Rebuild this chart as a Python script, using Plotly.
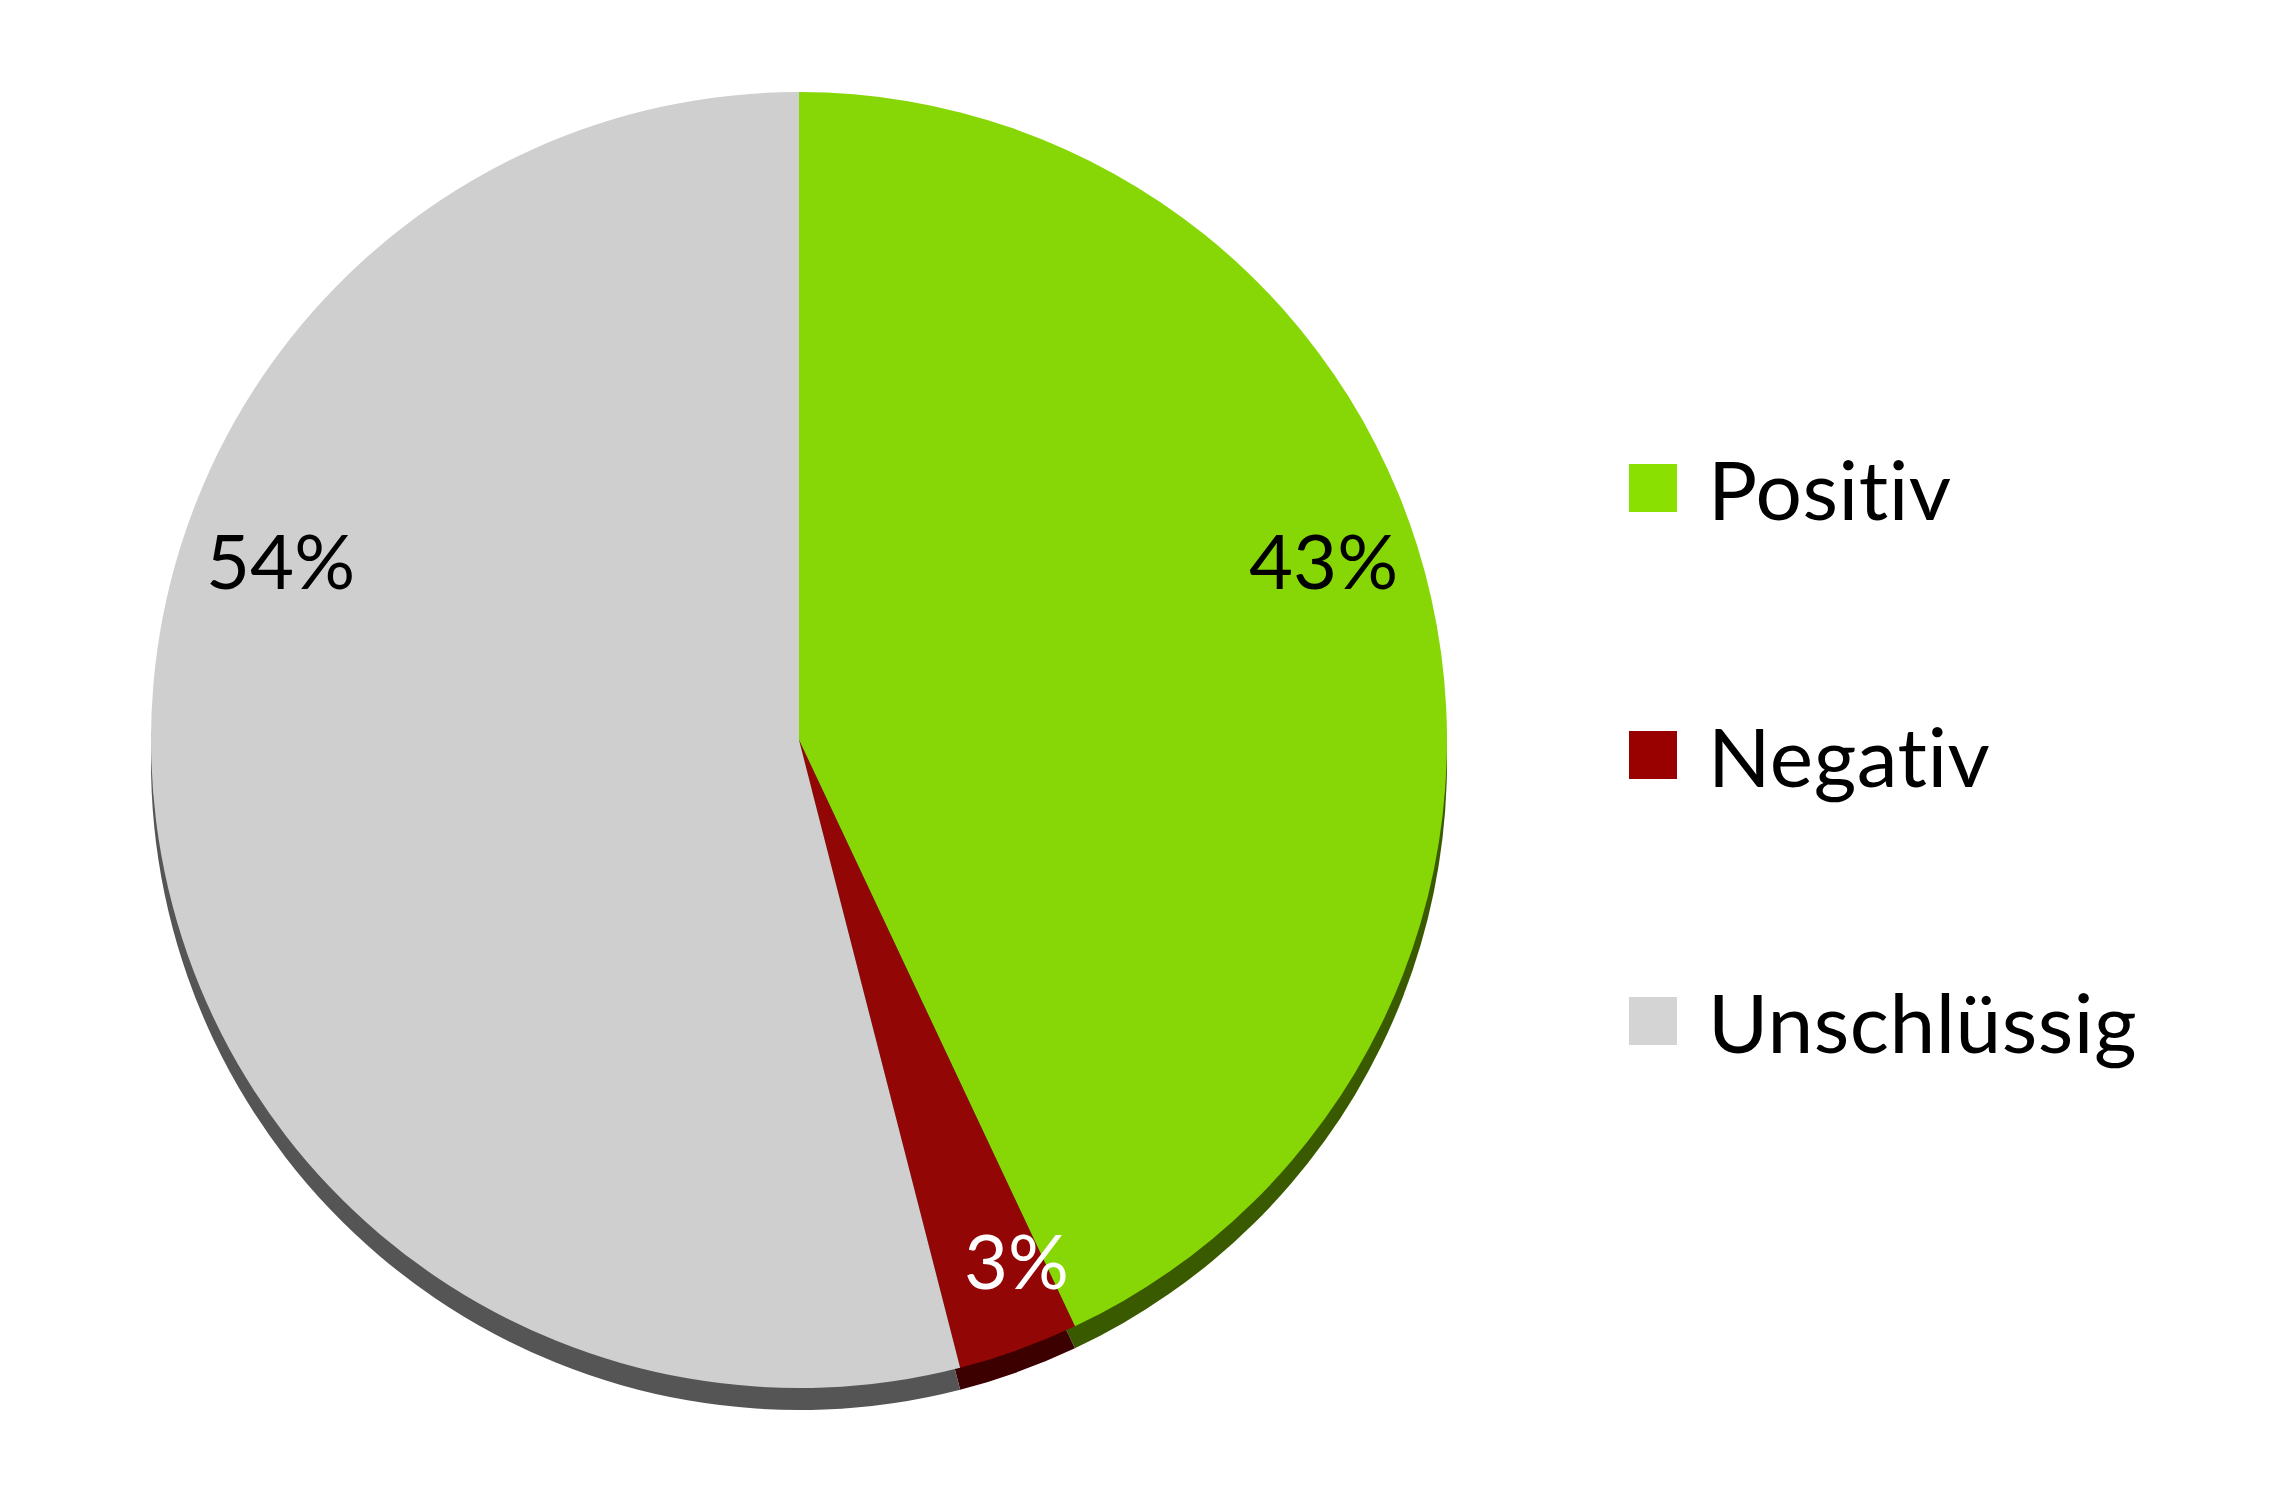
import plotly.graph_objects as go

labels = ["Positiv", "Negativ", "Unschlüssig"]
values = [43, 3, 54]
colors = ["#87D605", "#930606", "#CFCFCF"]
legend_colors = ["#8AE000", "#990000", "#D4D4D4"]
shadow_colors = ["#3A5A00", "#3C0000", "#555555"]
label_text_colors = ["#000000", "#FFFFFF", "#000000"]

W, H = 2277, 1486
OFF = 8  # page body margin offset
cx, cy, r = 799 - OFF, 740 - OFF, 648  # pixel geometry of pie (layout only)
shadow_dy = 22

def dom(cx, cy, r):
    return dict(x=[(cx - r) / W, (cx + r) / W],
                y=[(H - cy - r) / H, (H - cy + r) / H])

def px(x, y):
    return (x - OFF) / W, 1 - (y - OFF) / H

fig = go.Figure()
# shadow pie (drawn from same values, offset down)
fig.add_trace(go.Pie(
    labels=labels, values=values, sort=False, direction="clockwise", rotation=0,
    marker=dict(colors=shadow_colors, line=dict(width=0)),
    textinfo="none", hoverinfo="skip", showlegend=False,
    domain=dom(cx, cy + shadow_dy, r),
))
fig.add_trace(go.Pie(
    labels=labels, values=values, sort=False, direction="clockwise", rotation=0,
    marker=dict(colors=colors, line=dict(width=0)),
    textinfo="none", showlegend=False,
    domain=dom(cx, cy, r),
))

# data labels (positions as in reference)
label_pos = [(1323, 559), (1016, 1259), (280, 559)]
for v, (x, y), c in zip(values, label_pos, label_text_colors):
    ax, ay = px(x, y)
    fig.add_annotation(x=ax, y=ay, xref="paper", yref="paper",
                       text=f"{v}%", showarrow=False,
                       font=dict(family="Lato", size=76, color=c),
                       xanchor="center", yanchor="middle")

# manual legend
leg_x0, leg_size, leg_text_x = 1629, 48, 1706
leg_y = [488, 755, 1021]
for lab, col, y in zip(labels, legend_colors, leg_y):
    x0, y1 = px(leg_x0, y - leg_size / 2)
    x1, y0 = px(leg_x0 + leg_size, y + leg_size / 2)
    fig.add_shape(type="rect", xref="paper", yref="paper",
                  x0=x0, x1=x1, y0=y0, y1=y1,
                  fillcolor=col, line=dict(width=0))
    tx, ty = px(leg_text_x, y)
    fig.add_annotation(x=tx, y=ty, xref="paper", yref="paper",
                       text=f'<span style="letter-spacing:0.5px">{lab}</span>',
                       showarrow=False, xanchor="left", yanchor="middle",
                       font=dict(family="Lato", size=82, color="#000000"))

fig.update_layout(width=W, height=H, margin=dict(l=0, r=0, t=0, b=0),
                  paper_bgcolor="white", plot_bgcolor="white", showlegend=False)
fig.write_html("out.html")
